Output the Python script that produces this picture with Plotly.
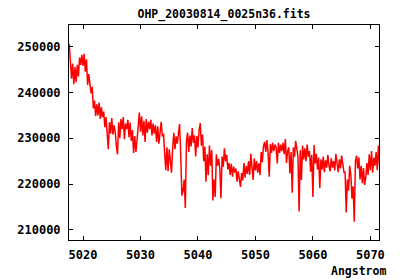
import numpy as np
import plotly.graph_objects as go

# Spectrum sampling (start wavelength and step, Angstrom)
wl_start = 5017.6
wl_step = 0.2

# Flux values in thousands of counts (blocks of 2 Angstrom)
flux_k = [
    250.6, 245.2, 243.0, 246.3, 241.8, 245.5, 242.2, 246.0, 243.5, 247.6,
    246.0, 248.2, 245.8, 248.4, 244.5, 247.2, 241.6, 244.0, 242.2, 239.8,
    241.2, 236.5, 238.2, 234.8, 237.4, 235.0, 237.8, 234.2, 236.8, 234.6,
    235.8, 232.4, 234.6, 229.8, 227.6, 233.5, 231.0, 234.4, 230.8, 232.8,
    231.4, 228.4, 226.5, 233.5, 230.0, 234.2, 232.0, 234.6, 229.8, 233.2,
    232.0, 234.0, 230.2, 233.4, 229.4, 231.8, 226.8, 230.5, 227.0, 229.6,
    233.0, 235.6, 231.4, 234.8, 230.6, 233.8, 229.2, 234.2, 231.2, 233.6,
    232.0, 234.0, 230.6, 233.2, 231.0, 232.8, 229.2, 232.6, 228.8, 231.5,
    233.6, 230.4, 231.0, 226.8, 223.0, 228.0, 222.8, 227.6, 225.0, 222.5,
    228.0, 231.2, 227.6, 230.4, 228.8, 231.0, 233.1, 226.5, 217.5, 218.5,
    221.0, 214.8, 229.5, 231.2, 227.0, 230.6, 228.2, 232.2, 229.0, 230.6,
    226.0, 230.5, 228.0, 231.8, 233.3, 228.4, 230.8, 225.0, 228.2, 220.5,
    226.5, 222.0, 228.4, 224.0, 227.4, 216.4, 221.0, 217.2, 226.5, 224.0,
    225.5, 223.4, 216.9, 226.0, 223.8, 227.8, 225.0, 226.4, 223.2, 224.6,
    222.0, 224.4, 221.6, 223.8, 222.5, 223.4, 220.5, 222.8, 221.0, 219.4,
    222.4, 220.8, 224.6, 221.4, 224.0, 222.2, 225.0, 222.0, 226.6, 223.4,
    220.9, 225.6, 223.0, 225.0, 222.5, 224.5, 222.0, 227.0, 224.8, 228.2,
    229.2, 227.0, 229.6, 226.8, 221.6, 228.8, 226.8, 229.0, 227.2, 228.6,
    228.0, 224.5, 229.0, 226.8, 228.6, 227.2, 229.0, 226.5, 229.8, 224.6,
    227.2, 228.0, 222.3, 227.0, 218.1, 228.0, 226.0, 229.4, 227.0, 226.0,
    214.0, 227.4, 220.9, 228.4, 225.4, 227.8, 225.0, 228.6, 226.0, 227.2,
    222.7, 226.4, 217.2, 228.5, 224.5, 226.6, 223.2, 225.8, 219.1, 225.4,
    223.2, 226.0, 222.6, 225.2, 223.6, 226.4, 224.0, 222.8, 225.6, 223.6,
    225.0, 223.0, 226.6, 224.0, 222.6, 225.4, 223.4, 226.2, 224.0, 222.6,
    222.6, 213.8, 221.0, 218.6, 224.0, 222.0, 216.8, 219.5, 211.8, 225.0,
    226.2, 223.4, 225.8, 221.0, 224.0, 220.2, 223.5, 219.8, 221.5, 224.6,
    222.0, 226.5, 223.0, 227.2, 222.5, 225.8, 224.0, 227.0, 223.0, 228.4,
    224.2,
]

title_text = "OHP_20030814_0025n36.fits"
x_label = "Angstrom"
x_ticks = [5020, 5030, 5040, 5050, 5060, 5070]
y_ticks = [210000, 220000, 230000, 240000, 250000]

flux = np.array(flux_k) * 1000.0
wavelength = wl_start + wl_step * np.arange(len(flux))

font = dict(family="DejaVu Sans Mono", size=11.5, color="black", weight="bold")
tick_font = dict(family="DejaVu Sans Mono", size=12, color="black", weight="bold")

fig = go.Figure()
fig.add_trace(go.Scatter(x=wavelength, y=flux, mode="lines",
                         line=dict(color="#ff0000", width=1.5),
                         showlegend=False, hoverinfo="skip"))

axis_common = dict(showline=True, mirror="ticks", linecolor="black", linewidth=1,
                   ticks="inside", ticklen=4, tickcolor="black", tickwidth=1,
                   showgrid=False, zeroline=False, tickfont=tick_font)

fig.update_xaxes(range=[5017.56, 5071.5], tickvals=x_ticks,
                 ticktext=[str(v) for v in x_ticks], ticklabelstandoff=4,
                 **axis_common)
fig.update_yaxes(range=[207800, 254700], tickvals=y_ticks,
                 ticktext=[str(v) for v in y_ticks], ticklabelstandoff=5,
                 **axis_common)

fig.update_layout(
    width=400, height=280,
    margin=dict(l=69, r=21, t=25, b=40),
    paper_bgcolor="white", plot_bgcolor="white",
    hovermode=False,
    title=dict(text=title_text, font=font, x=0.5, xref="paper",
               y=1 - 14 / 280, yanchor="middle"),
    annotations=[dict(text=x_label, xref="paper", yref="paper",
                      x=1.029, y=-0.144, xanchor="right", yanchor="middle",
                      showarrow=False, font=font)],
)

fig.write_html("out.html",
               config={"displayModeBar": False, "staticPlot": True},
               post_script="document.body.style.margin='0';document.body.style.overflow='hidden';")
